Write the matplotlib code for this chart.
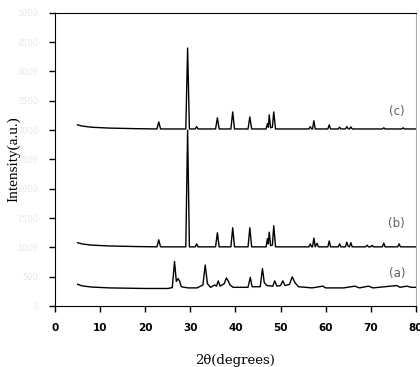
import numpy as np
import matplotlib
matplotlib.use('Agg')
import matplotlib.pyplot as plt

# XRD patterns (2theta in degrees, intensity in counts)
a_theta = [5, 6, 8, 12, 20, 25, 26.0, 26.5, 26.9, 27.3, 27.6, 28.0, 29.5, 31.5,
           32.8, 33.3, 33.8, 34.5, 35.4, 35.8, 36.2, 36.6, 37.5, 38.0, 38.4, 38.8,
           39.5, 42.8, 43.3, 43.7, 45.5, 46.0, 46.4, 47.0, 48.3, 48.7, 49.2, 50.0,
           50.5, 51.0, 52.0, 52.6, 53.2, 54.0, 57.0, 59.4, 60.0, 64.0, 66.5, 67.5,
           69.5, 70.5, 75.8, 76.5, 78.0, 79.0, 80.0]
a_counts = [370, 345, 325, 310, 300, 300, 315, 760, 420, 470, 430, 330, 310, 310,
            360, 700, 380, 320, 360, 340, 430, 340, 380, 480, 430, 360,
            320, 320, 490, 330, 330, 640, 400, 350, 340, 430, 340, 350,
            430, 350, 370, 500, 400, 330, 310, 340, 310, 310, 340, 310,
            340, 310, 350, 320, 340, 320, 320]

b_theta = [5, 6, 8, 12, 18, 22.6, 23.0, 23.4, 29.0, 29.4, 29.8, 31.1, 31.4, 31.7,
           35.6, 36.0, 36.4, 39.0, 39.4, 39.8, 42.8, 43.2, 43.6, 46.8, 47.1, 47.3,
           47.5, 47.8, 48.2, 48.5, 48.9, 56.3, 56.6, 56.9, 57.1, 57.4, 57.7, 58.1,
           58.4, 60.5, 60.8, 61.1, 62.8, 63.1, 63.4, 64.4, 64.7, 65.0, 65.3, 65.6,
           65.9, 68.9, 69.2, 69.5, 70.0, 70.3, 70.6, 72.6, 72.9, 73.2, 76.0, 76.3,
           76.6, 80.0]
b_counts = [1080, 1060, 1040, 1025, 1015, 1010, 1130, 1010, 1010, 3000, 1010, 1010, 1060, 1010,
            1010, 1250, 1010, 1010, 1335, 1010, 1010, 1335, 1010, 1010, 1150, 1060,
            1260, 1030, 1040, 1370, 1010, 1010, 1060, 1010, 1010, 1160, 1010, 1070,
            1010, 1010, 1110, 1010, 1010, 1060, 1010, 1010, 1090, 1020, 1010, 1080,
            1010, 1010, 1040, 1010, 1010, 1035, 1010, 1010, 1075, 1010, 1010, 1060,
            1010, 1010]

c_theta = [5, 6, 8, 12, 18, 22.6, 23.0, 23.4, 29.0, 29.4, 29.8, 31.1, 31.4, 31.7,
           35.6, 36.0, 36.4, 39.0, 39.4, 39.8, 42.8, 43.2, 43.6, 46.8, 47.1, 47.3,
           47.5, 47.8, 48.2, 48.5, 48.9, 56.3, 56.6, 56.9, 57.1, 57.4, 57.7, 60.5,
           60.8, 61.1, 62.8, 63.1, 63.4, 64.4, 64.7, 65.0, 65.3, 65.6, 65.9, 72.6,
           72.9, 73.2, 76.9, 77.2, 77.5, 80.0]
c_counts = [3090, 3070, 3050, 3035, 3025, 3020, 3140, 3020, 3020, 4400, 3020, 3020, 3060, 3020,
            3020, 3210, 3020, 3020, 3310, 3020, 3020, 3225, 3020, 3020, 3110, 3050,
            3260, 3040, 3050, 3310, 3020, 3020, 3060, 3020, 3020, 3160, 3020, 3020,
            3090, 3020, 3020, 3050, 3020, 3020, 3060, 3025, 3020, 3055, 3020, 3020,
            3040, 3020, 3020, 3040, 3020, 3020]

labels = ['(a)', '(b)', '(c)']
label_pos = [(75.8, 560), (75.8, 1400), (75.8, 3310)]

x_ticks = np.arange(0, 81, 10)
y_ticks = np.arange(0, 5001, 500)

fig = plt.figure(figsize=(4.2, 3.67), dpi=100)
ax = fig.add_axes([0.131, 0.166, 0.859, 0.799])

for th, cnt in [(a_theta, a_counts), (b_theta, b_counts), (c_theta, c_counts)]:
    ax.plot(th, cnt, color='black', linewidth=1.0)

for lab, (px, py) in zip(labels, label_pos):
    ax.text(px, py, lab, color='#606060', fontsize=8.5, ha='center', va='center')

ax.set_xlim(0, 80)
ax.set_ylim(0, 5000)
ax.set_xticks(x_ticks)
ax.set_yticks(y_ticks)
ax.tick_params(axis='x', direction='out', length=4, width=1, labelsize=7.5, pad=8)
ax.tick_params(axis='y', direction='out', length=4, width=1, labelsize=6,
               labelcolor='#e8e8e8', pad=8)
for lbl in ax.get_xticklabels():
    lbl.set_fontweight('bold')

ax.spines['right'].set_color('#aaaaaa')
for side in ['left', 'bottom', 'top']:
    ax.spines[side].set_color('black')

ax.set_xlabel('2θ(degrees)', family='DejaVu Serif', fontsize=9.5)
ax.set_ylabel('Intensity(a.u.)', family='Liberation Serif', fontsize=11)
ax.xaxis.set_label_coords(0.5, -0.165)
ax.yaxis.set_label_coords(-0.097, 0.5)

plt.savefig('out.png', dpi=100)
